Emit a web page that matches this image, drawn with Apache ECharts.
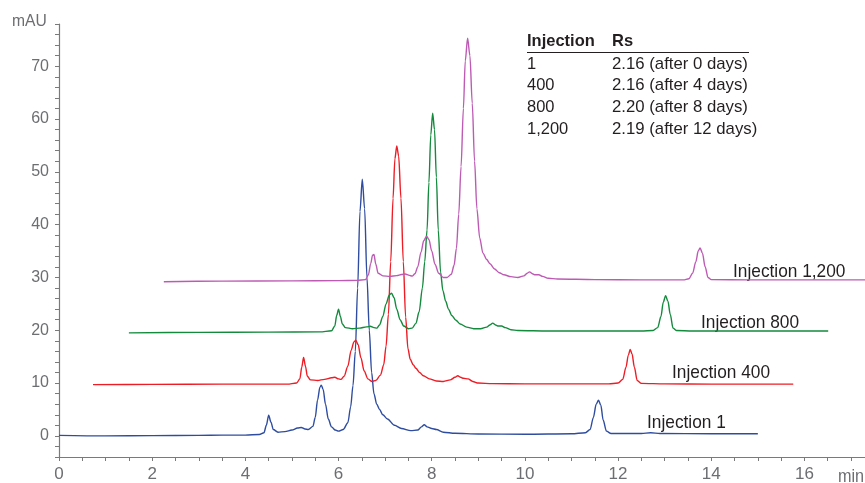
<!DOCTYPE html>
<html>
<head>
<meta charset="utf-8">
<script src="https://cdn.jsdelivr.net/npm/echarts@6/dist/echarts.min.js"></script>
<style>
  html, body { margin: 0; padding: 0; background: #fff; }
  #chart { width: 865px; height: 483px; }
</style>
</head>
<body>
<div id="chart"></div>
<script>
// chromatograms: [min, mAU]
var inj1 = [
  [0, 0.1], [1, 0.0], [2, 0.05], [3, 0.1], [3.5, 0.15], [4.0, 0.15], [4.3, 0.25], [4.40, 0.6], [4.45, 2.0], [4.50, 3.9],
  [4.55, 2.6], [4.60, 1.2], [4.70, 0.7], [4.85, 0.8], [5.0, 1.1], [5.12, 1.5], [5.20, 1.6], [5.28, 1.3], [5.35, 1.2],
  [5.45, 1.8], [5.50, 3.5], [5.55, 6.8], [5.60, 9.2], [5.63, 9.6], [5.67, 8.8], [5.72, 6.0], [5.78, 3.2], [5.85, 1.7],
  [5.93, 1.1], [6.00, 0.9], [6.10, 1.2], [6.20, 2.5], [6.26, 5.5], [6.31, 9.5], [6.36, 16], [6.41, 28], [6.46, 42.5],
  [6.51, 48.6], [6.56, 43], [6.61, 30], [6.66, 20], [6.71, 12], [6.76, 8], [6.82, 6], [6.88, 5.0], [6.95, 4.0],
  [7.05, 3.2], [7.20, 2.0], [7.35, 1.4], [7.55, 1.0], [7.70, 1.1], [7.78, 1.7], [7.84, 2.1], [7.90, 1.7], [8.00, 1.4],
  [8.10, 1.2], [8.25, 0.7], [8.5, 0.5], [9, 0.35], [10, 0.3], [11, 0.4], [11.3, 0.6], [11.40, 1.2], [11.47, 3.5],
  [11.53, 6.0], [11.58, 6.75], [11.63, 5.8], [11.68, 3.0], [11.75, 0.9], [11.85, 0.45], [12.5, 0.45], [12.7, 0.6],
  [12.9, 0.45], [14, 0.4], [15.0, 0.4]
];
var inj400 = [
  [0.73, 9.7], [2, 9.75], [3.5, 9.8], [4.9, 9.8], [5.10, 10.0], [5.17, 10.8], [5.21, 13.0], [5.25, 14.85], [5.29, 13.2],
  [5.33, 11.3], [5.40, 10.6], [5.55, 10.5], [5.70, 10.7], [5.85, 11.0], [5.92, 11.1], [6.00, 10.8], [6.05, 10.7],
  [6.12, 11.3], [6.20, 13.2], [6.27, 16.2], [6.33, 17.8], [6.37, 18.1], [6.42, 17.3], [6.48, 14.8], [6.55, 12.3],
  [6.63, 10.8], [6.72, 10.3], [6.80, 10.5], [6.90, 11.5], [6.97, 13.5], [7.02, 17], [7.07, 23], [7.12, 33], [7.17, 45],
  [7.21, 52.5], [7.25, 54.9], [7.29, 53], [7.34, 45], [7.39, 33], [7.44, 22.5], [7.49, 16.5], [7.54, 14.5], [7.60, 13.5],
  [7.66, 12.8], [7.74, 12], [7.82, 11.4], [7.95, 10.8], [8.10, 10.4], [8.25, 10.3], [8.40, 10.6], [8.50, 11.1],
  [8.56, 11.4], [8.62, 11.1], [8.68, 10.9], [8.78, 10.8], [8.88, 10.3], [9.0, 10.0], [9.3, 9.9], [10, 9.85], [11, 9.85],
  [11.8, 9.85], [12.0, 10.0], [12.10, 10.7], [12.17, 13.0], [12.22, 15.3], [12.26, 16.35], [12.30, 15.5], [12.35, 13.0],
  [12.41, 10.5], [12.5, 9.95], [13, 9.85], [14, 9.8], [15, 9.8], [15.76, 9.8]
];
var inj800 = [
  [1.5, 19.5], [3, 19.6], [4.5, 19.65], [5.6, 19.7], [5.85, 19.9], [5.92, 20.8], [5.96, 22.8], [6.00, 24.0], [6.04, 22.6],
  [6.08, 21.2], [6.15, 20.5], [6.30, 20.3], [6.45, 20.4], [6.60, 20.65], [6.68, 20.75], [6.76, 20.5], [6.82, 20.4],
  [6.88, 21.0], [6.95, 22.6], [7.02, 25.0], [7.09, 26.7], [7.14, 27.0], [7.19, 26.2], [7.25, 24.0], [7.32, 22.0],
  [7.40, 20.8], [7.50, 20.3], [7.58, 20.4], [7.66, 21.3], [7.73, 23.5], [7.80, 28], [7.85, 33], [7.90, 39], [7.94, 48],
  [7.98, 57], [8.02, 61.1], [8.06, 58], [8.10, 49], [8.14, 39], [8.19, 31], [8.24, 27.5], [8.30, 25.5], [8.36, 24.0],
  [8.43, 22.8], [8.52, 21.9], [8.61, 21.2], [8.75, 20.6], [8.90, 20.3], [9.05, 20.3], [9.18, 20.6], [9.25, 21.0],
  [9.31, 21.35], [9.37, 21.0], [9.43, 20.8], [9.50, 20.8], [9.58, 20.5], [9.70, 20.1], [9.85, 19.95], [10.5, 19.85],
  [11.5, 19.85], [12.5, 19.85], [12.75, 19.95], [12.85, 20.5], [12.92, 22.6], [12.97, 25.3], [13.02, 26.55],
  [13.07, 25.5], [13.12, 23], [13.18, 20.4], [13.25, 19.95], [13.6, 19.85], [14.5, 19.85], [15.5, 19.85], [16.51, 19.85]
];
var inj1200 = [
  [2.25, 29.2], [3.5, 29.3], [5, 29.35], [6.0, 29.4], [6.40, 29.45], [6.58, 29.6], [6.64, 30.5], [6.69, 32.6],
  [6.73, 34.2], [6.76, 34.35], [6.80, 32.5], [6.85, 30.8], [6.95, 30.3], [7.10, 30.2], [7.25, 30.35], [7.35, 30.55],
  [7.43, 30.65], [7.52, 30.4], [7.58, 30.25], [7.64, 30.7], [7.70, 32], [7.77, 34.8], [7.83, 37.0], [7.89, 37.8],
  [7.94, 37.2], [8.00, 35], [8.07, 32.5], [8.15, 30.8], [8.25, 30.0], [8.33, 30.0], [8.42, 30.6], [8.48, 32.3],
  [8.53, 35.5], [8.58, 42], [8.63, 51], [8.68, 62], [8.72, 71], [8.77, 75.3], [8.82, 72], [8.87, 63], [8.92, 52],
  [8.97, 43], [9.03, 37.5], [9.10, 34.6], [9.18, 33.4], [9.25, 32.6], [9.35, 31.6], [9.45, 30.9], [9.55, 30.5],
  [9.70, 30.15], [9.85, 30.0], [9.98, 30.3], [10.05, 30.8], [10.10, 31.05], [10.16, 30.7], [10.22, 30.5], [10.30, 30.5],
  [10.38, 30.2], [10.5, 29.85], [10.7, 29.7], [11.5, 29.6], [12.5, 29.55], [13.4, 29.55], [13.52, 29.75], [13.60, 30.8],
  [13.67, 33.0], [13.72, 35.0], [13.76, 35.6], [13.81, 34.6], [13.87, 32.0], [13.93, 30.0], [14.0, 29.6], [14.8, 29.55],
  [16, 29.55], [17.3, 29.55]
];

var traceNames = ['Injection 1', 'Injection 400', 'Injection 800', 'Injection 1,200'];
var traceData = [inj1, inj400, inj800, inj1200];
var traceColors = ['#2f4da0', '#ee1c25', '#138a3c', '#bd5bb4'];

// resolution table
var tableInjections = ['1', '400', '800', '1,200'];
var tableRs = ['2.16 (after 0 days)', '2.16 (after 4 days)', '2.20 (after 8 days)', '2.19 (after 12 days)'];

var FONT = '"Liberation Sans", Arial, sans-serif';
var axisGrey = '#7a7a7a';
var labelGrey = '#6d6e71';
var textDark = '#231f20';

var chart = echarts.init(document.getElementById('chart'));

var series = [];
for (var i = 0; i < traceData.length; i++) {
  series.push({
    name: traceNames[i],
    type: 'line',
    data: traceData[i],
    showSymbol: false,
    smooth: 0.3,
    smoothMonotone: 'x',
    animation: false,
    lineStyle: { color: traceColors[i], width: 1.4 },
    z: 2 + i
  });
}

// narrow-looking text: scale horizontally around its left edge
function narrowText(x, y, text, font, fill, sx) {
  return {
    type: 'text', x: x, y: y, scaleX: sx,
    style: { text: text, x: 0, y: 0, fill: fill, font: font, textAlign: 'left', textVerticalAlign: 'middle' }
  };
}

// label spots for each trace name (pixels)
var nameSpots = [[647, 423], [672, 373], [701, 323], [733, 272]];
var graphics = [];
for (var k = 0; k < traceNames.length; k++) {
  graphics.push(narrowText(nameSpots[k][0], nameSpots[k][1], traceNames[k], '19px ' + FONT, textDark, 0.91));
}
graphics.push(narrowText(12, 21, 'mAU', '17px ' + FONT, labelGrey, 0.92));
graphics.push(narrowText(838, 477, 'min', '18px ' + FONT, labelGrey, 0.9));

// table
graphics.push(narrowText(527, 41, 'Injection', 'bold 17px ' + FONT, textDark, 0.97));
graphics.push(narrowText(612, 41, 'Rs', 'bold 17px ' + FONT, textDark, 0.97));
graphics.push({ type: 'line', shape: { x1: 527, y1: 52.5, x2: 749, y2: 52.5 }, style: { stroke: textDark, lineWidth: 1.2 } });
for (var r = 0; r < tableInjections.length; r++) {
  var ty = 64 + r * 21.8;
  graphics.push(narrowText(527, ty, tableInjections[r], '17px ' + FONT, textDark, 0.97));
  graphics.push(narrowText(612, ty, tableRs[r], '17px ' + FONT, textDark, 0.985));
}

chart.setOption({
  animation: false,
  grid: { left: 59, right: 0, top: 24, bottom: 22, containLabel: false },
  xAxis: {
    type: 'value',
    min: 0,
    max: 17.3,
    interval: 0.5,
    axisLine: { onZero: false, lineStyle: { color: axisGrey, width: 1.2 } },
    axisTick: { length: 4, lineStyle: { color: axisGrey } },
    axisLabel: {
      margin: 9,
      color: labelGrey,
      fontSize: 17,
      fontFamily: FONT,
      showMaxLabel: false,
      formatter: function (v) { return (Math.abs(v % 2) < 1e-6) ? String(v) : ''; }
    },
    splitLine: { show: false }
  },
  yAxis: {
    type: 'value',
    min: -4,
    max: 78,
    interval: 2,
    axisLine: { show: true, lineStyle: { color: axisGrey, width: 1.2 } },
    axisTick: { length: 4, lineStyle: { color: axisGrey } },
    axisLabel: {
      margin: 10,
      color: labelGrey,
      fontSize: 16,
      fontFamily: FONT,
      formatter: function (v) { return (Math.abs(v % 10) < 1e-6) ? String(v) : ''; }
    },
    splitLine: { show: false }
  },
  series: series,
  graphic: graphics
});
</script>
</body>
</html>
